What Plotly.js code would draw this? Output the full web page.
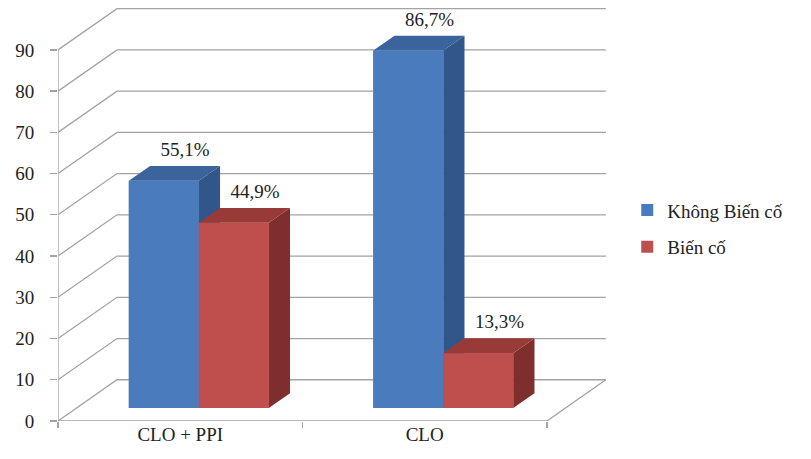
<!DOCTYPE html>
<html>
<head>
<meta charset="utf-8">
<script src="https://cdn.plot.ly/plotly-3.0.1.min.js"></script>
<style>
  html, body { margin: 0; padding: 0; background: #ffffff; }
  #chart { width: 811px; height: 459px; }
</style>
</head>
<body>
<div id="chart"></div>
<script>
// Chart data
const categories = ['CLO + PPI', 'CLO'];
const seriesNames = ['Không Biến cố', 'Biến cố'];
const khongBienCo = [55.1, 86.7];
const bienCo = [44.9, 13.3];
const yTickValues = [0, 10, 20, 30, 40, 50, 60, 70, 80, 90];

// Oblique "3-D" projection: a point at depth z (0 = front, 1 = back wall)
// is shifted right by DEPTH_X category units and up by DEPTH_Y value units.
const DEPTH_X = 0.2413;
const DEPTH_Y = 10;
const BAR_Z0 = 0.315;   // front face depth of the bars
const BAR_Z1 = 0.675;   // back face depth of the bars
const BAR_W = 0.2863;   // width of one bar in category units

const FRONT = ['#4A7CBD', '#BF4F4C'];
const TOP   = ['#3B649D', '#983B38'];
const SIDE  = ['#30568A', '#7E2E2C'];
const GRID  = '#A3A3A3';
const SERIF = '"Liberation Serif", "Times New Roman", "DejaVu Serif", serif';

function proj(x, y, z) { return [x + z * DEPTH_X, y + z * DEPTH_Y]; }

function poly(points, color) {
  const xs = [], ys = [];
  points.forEach(p => { const q = proj(p[0], p[1], p[2]); xs.push(q[0]); ys.push(q[1]); });
  return {
    type: 'scatter', mode: 'lines', x: xs, y: ys, fill: 'toself',
    fillcolor: color, line: { width: 0, color: color },
    showlegend: false, hoverinfo: 'skip'
  };
}

function line(points, color, width) {
  const xs = [], ys = [];
  points.forEach(p => { const q = proj(p[0], p[1], p[2]); xs.push(q[0]); ys.push(q[1]); });
  return {
    type: 'scatter', mode: 'lines', x: xs, y: ys,
    line: { color: color, width: width },
    showlegend: false, hoverinfo: 'skip', cliponaxis: false
  };
}

const series = [khongBienCo, bienCo];
const nCat = categories.length;
const traces = [];

// Legend entries and base front faces (bar traces)
series.forEach((vals, s) => {
  traces.push({
    type: 'bar',
    name: seriesNames[s],
    x: categories.map((c, i) => i + 0.5 - BAR_W + s * BAR_W + BAR_W / 2 + BAR_Z0 * DEPTH_X),
    y: vals,
    base: vals.map(() => BAR_Z0 * DEPTH_Y),
    width: BAR_W,
    marker: { color: FRONT[s], line: { width: 0 } },
    legendgroup: 'g' + s,
    hoverinfo: 'skip'
  });
});

// Back wall gridlines with their diagonal return on the side wall
yTickValues.forEach(t => {
  traces.push(line([[0, t, 0], [0, t, 1], [nCat, t, 1]], GRID, 1.3));
});
// Floor front edge and right edge
traces.push(line([[0, 0, 0], [nCat, 0, 0], [nCat, 0, 1]], GRID, 1.3));
// Front vertical axis
traces.push(line([[0, 0, 0], [0, yTickValues[yTickValues.length - 1], 0]], GRID, 1.3));

// Bars drawn face by face, left to right so that nearer faces cover farther ones
const labelX = [], labelY = [], labelText = [];
for (let i = 0; i < nCat; i++) {
  series.forEach((vals, s) => {
    const v = vals[i];
    const x0 = i + 0.5 - BAR_W + s * BAR_W;
    const x1 = x0 + BAR_W;
    traces.push(poly([[x1, 0, BAR_Z0], [x1, 0, BAR_Z1], [x1, v, BAR_Z1], [x1, v, BAR_Z0]], SIDE[s]));
    traces.push(poly([[x0, v, BAR_Z0], [x1, v, BAR_Z0], [x1, v, BAR_Z1], [x0, v, BAR_Z1]], TOP[s]));
    traces.push(poly([[x0, 0, BAR_Z0], [x1, 0, BAR_Z0], [x1, v, BAR_Z0], [x0, v, BAR_Z0]], FRONT[s]));
    const p = proj((x0 + x1) / 2, v, BAR_Z1);
    labelX.push(p[0]);
    labelY.push(p[1] + 3.6);
    labelText.push(v.toFixed(1).replace('.', ',') + '%');
  });
}

// Value labels
traces.push({
  type: 'scatter', mode: 'text', x: labelX, y: labelY, text: labelText,
  textposition: 'middle center',
  textfont: { family: SERIF, size: 19, color: '#222222' },
  showlegend: false, hoverinfo: 'skip', cliponaxis: false
});

const layout = {
  width: 811, height: 459,
  margin: { l: 58, r: 203, t: 7, b: 38 },
  paper_bgcolor: '#ffffff', plot_bgcolor: 'rgba(0,0,0,0)',
  font: { family: SERIF, size: 19, color: '#222222' },
  barmode: 'overlay',
  showlegend: true,
  legend: {
    x: 1.035, xanchor: 'left', y: 0.555, yanchor: 'top',
    font: { family: SERIF, size: 19, color: '#222222' },
    traceorder: 'grouped', tracegroupgap: 9,
    bgcolor: 'rgba(0,0,0,0)'
  },
  xaxis: {
    range: [0, 2.25], fixedrange: true,
    showgrid: false, zeroline: false, showline: false,
    tickmode: 'array', tickvals: [0.5, 1.5], ticktext: categories,
    ticks: '',
    minor: { tickmode: 'array', tickvals: [0, 1, 2], ticks: 'outside', ticklen: 6, tickwidth: 1.3, tickcolor: GRID, showgrid: false },
    tickfont: { family: SERIF, size: 19, color: '#222222' }
  },
  yaxis: {
    range: [0, 100.4], fixedrange: true,
    showgrid: false, zeroline: false, showline: false,
    tickmode: 'array', tickvals: yTickValues,
    ticks: 'outside', ticklen: 7, tickwidth: 1.3, tickcolor: GRID,
    ticklabelstandoff: 12,
    tickfont: { family: SERIF, size: 19, color: '#222222' }
  }
};

Plotly.newPlot('chart', traces, layout, { displayModeBar: false, staticPlot: true });
</script>
</body>
</html>
